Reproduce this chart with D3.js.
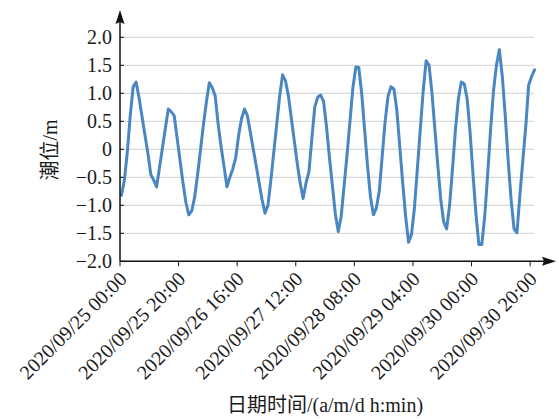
<!DOCTYPE html>
<html>
<head>
<meta charset="utf-8">
<script src="https://cdn.jsdelivr.net/npm/d3@7"></script>
<style>
html,body{margin:0;padding:0;background:#fff;}
svg{display:block;}
</style>
</head>
<body>
<svg id="chart" width="559" height="419"></svg>
<script>
// ---- data (hourly tide level, m) ----
const tickLabels = ["2020/09/25 00:00","2020/09/25 20:00","2020/09/26 16:00","2020/09/27 12:00",
  "2020/09/28 08:00","2020/09/29 04:00","2020/09/30 00:00","2020/09/30 20:00"];
const tickHours = [0,20,40,60,80,100,120,140];
const yTicks = [-2.0,-1.5,-1.0,-0.5,0,0.5,1.0,1.5,2.0];
const levels = [
 -0.82,-0.55,-0.05,0.60,1.12,1.20,0.92,0.59,0.26,-0.06,
 -0.45,-0.55,-0.67,-0.32,0.03,0.38,0.72,0.67,0.60,0.20,
 -0.20,-0.60,-0.95,-1.17,-1.10,-0.85,-0.45,0.00,0.45,0.85,
 1.19,1.10,0.95,0.45,0.05,-0.30,-0.67,-0.50,-0.35,-0.15,
 0.25,0.55,0.72,0.60,0.30,0.00,-0.30,-0.60,-0.90,-1.14,
 -1.00,-0.55,-0.05,0.45,0.95,1.33,1.22,0.95,0.55,0.15,
 -0.25,-0.60,-0.88,-0.60,-0.40,0.20,0.76,0.93,0.97,0.85,
 0.40,-0.15,-0.65,-1.15,-1.47,-1.20,-0.65,-0.10,0.50,1.10,
 1.47,1.46,1.00,0.35,-0.30,-0.85,-1.17,-1.05,-0.75,-0.12,
 0.50,0.95,1.12,1.08,0.70,0.05,-0.60,-1.20,-1.66,-1.52,
 -1.05,-0.35,0.35,1.05,1.58,1.50,1.00,0.35,-0.30,-0.90,
 -1.30,-1.42,-1.00,-0.35,0.35,0.90,1.20,1.17,0.90,0.30,
 -0.45,-1.15,-1.70,-1.70,-1.20,-0.45,0.35,1.05,1.50,1.78,
 1.30,0.60,-0.20,-0.90,-1.42,-1.49,-0.82,-0.20,0.40,1.15,
 1.30,1.42
];
const yLabel = "潮位/m";
const xLabel = "日期时间/(a/m/d h:min)";

// ---- layout ----
const FONT = "'Liberation Serif', 'Noto Sans CJK SC', serif";
const svg = d3.select("#chart");
const mLeft = 120, mRight = 536, mTop = 37.3, mBottom = 261.3;
const n = levels.length;
const x = d3.scaleLinear().domain([-0.5, n - 0.5]).range([mLeft, mRight]);
const y = d3.scaleLinear().domain([-2, 2]).range([mBottom, mTop]);

// gridlines
svg.append("g").selectAll("line").data(yTicks.filter(d => d > -2)).join("line")
  .attr("x1", mLeft).attr("x2", 534)
  .attr("y1", d => y(d)).attr("y2", d => y(d))
  .attr("stroke", "#d9d9d9").attr("stroke-width", 1.3);

// y axis ticks & labels
const yg = svg.append("g");
yg.selectAll("line").data(yTicks).join("line")
  .attr("x1", mLeft).attr("x2", mLeft + 4)
  .attr("y1", d => y(d)).attr("y2", d => y(d))
  .attr("stroke", "#111").attr("stroke-width", 1);
yg.selectAll("text").data(yTicks).join("text")
  .attr("x", mLeft - 8).attr("y", d => y(d)).attr("dy", "0.35em")
  .attr("text-anchor", "end").attr("font-size", 20)
  .attr("font-family", FONT).attr("fill", "#1a1a1a")
  .text(d => d === 0 ? "0" : (d < 0 ? "\u2212" : "") + Math.abs(d).toFixed(1));

// x ticks & labels
const xg = svg.append("g");
xg.selectAll("line").data(tickHours).join("line")
  .attr("x1", d => x(d - 0.5)).attr("x2", d => x(d - 0.5))
  .attr("y1", mBottom).attr("y2", mBottom + 5)
  .attr("stroke", "#111").attr("stroke-width", 1);
xg.selectAll("text").data(tickHours).join("text")
  .attr("transform", d => `translate(${x(d - 0.5) + 8},${mBottom + 19}) rotate(-45)`)
  .attr("text-anchor", "end").attr("font-size", 20)
  .attr("font-family", FONT).attr("fill", "#1a1a1a")
  .text((d, i) => tickLabels[i]);

// data line
const line = d3.line().x((d, i) => x(i)).y(d => y(d));
svg.append("path").datum(levels)
  .attr("d", line).attr("fill", "none")
  .attr("stroke", "#4a86c2").attr("stroke-width", 3)
  .attr("stroke-linejoin", "round").attr("stroke-linecap", "round");

// axes with arrows
svg.append("line").attr("x1", mLeft).attr("x2", mLeft).attr("y1", mBottom).attr("y2", 20)
  .attr("stroke", "#111").attr("stroke-width", 1.5);
svg.append("line").attr("x1", mLeft).attr("x2", 546).attr("y1", mBottom).attr("y2", mBottom)
  .attr("stroke", "#111").attr("stroke-width", 1.5);
svg.append("path").attr("d", `M${mLeft},10 L${mLeft + 4.5},24 L${mLeft},22 L${mLeft - 4.5},24 Z`).attr("fill", "#111");
svg.append("path").attr("d", `M556,${mBottom} L542,${mBottom + 4.5} L544,${mBottom} L542,${mBottom - 4.5} Z`).attr("fill", "#111");

// axis titles
svg.append("text").attr("transform", "translate(57,150) rotate(-90)")
  .attr("text-anchor", "middle").attr("font-size", 20)
  .attr("font-family", FONT).attr("fill", "#1a1a1a").text(yLabel);
svg.append("text").attr("x", 325).attr("y", 412)
  .attr("text-anchor", "middle").attr("font-size", 20)
  .attr("font-family", FONT).attr("fill", "#1a1a1a").text(xLabel);
</script>
</body>
</html>
